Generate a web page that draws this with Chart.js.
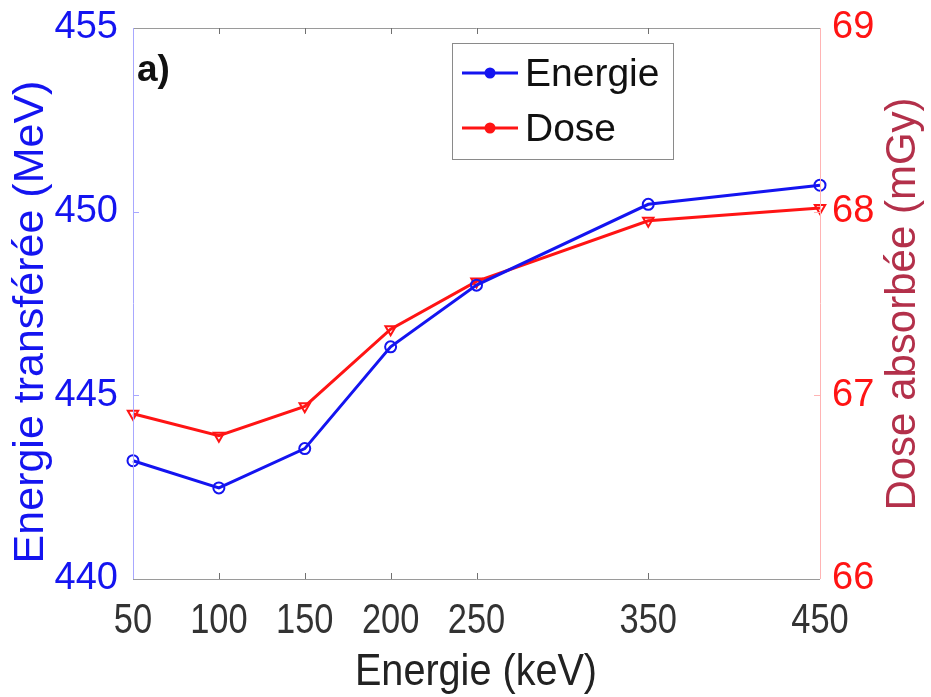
<!DOCTYPE html>
<html>
<head>
<meta charset="utf-8">
<script src="https://cdn.jsdelivr.net/npm/chart.js@4.4.1/dist/chart.umd.min.js"></script>
<style>
  html, body { margin: 0; padding: 0; background: #fff; }
  #wrap { width: 931px; height: 697px; }
</style>
</head>
<body>
<div id="wrap"><canvas id="c" width="931" height="697"></canvas></div>
<script>
// Photon energy (keV) and the two measured quantities
const energyKeV = [50, 100, 150, 200, 250, 350, 450];
const energieMeV = [443.22, 442.48, 443.55, 446.32, 448.0, 450.2, 450.72];
const doseMGy = [66.90, 66.78, 66.94, 67.36, 67.62, 67.95, 68.02];

const leftTicks = [440, 445, 450, 455];
const rightTicks = [66, 67, 68, 69];

const BLUE = '#1414f0';
const RED = '#ff1414';
const SANS = '"Liberation Sans", Arial, sans-serif';

// Frame, inner tick marks, x tick labels, axis titles, panel label and legend
const decor = {
  id: 'decor',
  afterDraw(chart) {
    const ctx = chart.ctx;
    const a = chart.chartArea;
    const x = chart.scales.x, y = chart.scales.y, y1 = chart.scales.y1;
    ctx.save();
    ctx.lineWidth = 1;

    // frame
    ctx.strokeStyle = '#9a9a9a';
    ctx.beginPath();
    ctx.moveTo(a.left, a.top + 0.5); ctx.lineTo(a.right, a.top + 0.5);
    ctx.moveTo(a.left, a.bottom + 0.5); ctx.lineTo(a.right, a.bottom + 0.5);
    ctx.stroke();
    ctx.strokeStyle = '#a8a8ff';
    ctx.beginPath(); ctx.moveTo(a.left + 0.5, a.top); ctx.lineTo(a.left + 0.5, a.bottom); ctx.stroke();
    ctx.strokeStyle = '#ffb4b4';
    ctx.beginPath(); ctx.moveTo(a.right + 0.5, a.top); ctx.lineTo(a.right + 0.5, a.bottom); ctx.stroke();

    // inner tick marks
    const tl = 6;
    ctx.strokeStyle = '#707070';
    ctx.beginPath();
    x.ticks.forEach(t => {
      if (t.value === x.min || t.value === x.max) return;
      const px = Math.round(x.getPixelForValue(t.value)) + 0.5;
      ctx.moveTo(px, a.bottom); ctx.lineTo(px, a.bottom - tl);
      ctx.moveTo(px, a.top); ctx.lineTo(px, a.top + tl);
    });
    ctx.stroke();
    ctx.strokeStyle = '#a8a8ff';
    ctx.beginPath();
    y.ticks.forEach(t => {
      if (t.value === y.min || t.value === y.max) return;
      const py = Math.round(y.getPixelForValue(t.value)) + 0.5;
      ctx.moveTo(a.left, py); ctx.lineTo(a.left + tl, py);
    });
    ctx.stroke();
    ctx.strokeStyle = '#ffb4b4';
    ctx.beginPath();
    y1.ticks.forEach(t => {
      if (t.value === y1.min || t.value === y1.max) return;
      const py = Math.round(y1.getPixelForValue(t.value)) + 0.5;
      ctx.moveTo(a.right, py); ctx.lineTo(a.right - tl, py);
    });
    ctx.stroke();

    // x tick labels (slightly condensed face)
    ctx.fillStyle = '#333';
    ctx.font = '42px ' + SANS;
    ctx.textAlign = 'center';
    ctx.textBaseline = 'alphabetic';
    x.ticks.forEach(t => {
      const px = x.getPixelForValue(t.value);
      ctx.save();
      ctx.translate(px, 633);
      ctx.scale(0.82, 1);
      ctx.fillText(String(t.value), 0, 0);
      ctx.restore();
    });

    // axis titles
    ctx.save();
    ctx.translate(476, 685);
    ctx.scale(0.9, 1);
    ctx.fillStyle = '#222';
    ctx.font = '44px ' + SANS;
    ctx.fillText('Energie (keV)', 0, 0);
    ctx.restore();

    ctx.save();
    ctx.translate(43, 322);
    ctx.rotate(-Math.PI / 2);
    ctx.fillStyle = BLUE;
    ctx.font = '43px ' + SANS;
    ctx.fillText('Energie transférée (MeV)', 0, 0);
    ctx.restore();

    ctx.save();
    ctx.translate(915, 304);
    ctx.rotate(-Math.PI / 2);
    ctx.fillStyle = '#b3304a';
    ctx.font = '42px ' + SANS;
    ctx.fillText('Dose absorbée (mGy)', 0, 0);
    ctx.restore();

    // panel label
    ctx.textAlign = 'left';
    ctx.fillStyle = '#111';
    ctx.font = 'bold 37px ' + SANS;
    ctx.fillText('a)', 137, 81);

    // legend
    const bx = 452, by = 43, bw = 221, bh = 116;
    ctx.fillStyle = '#fff';
    ctx.fillRect(bx, by, bw, bh);
    ctx.strokeStyle = '#8a8a8a';
    ctx.lineWidth = 1;
    ctx.strokeRect(bx + 0.5, by + 0.5, bw, bh);
    const items = [
      { label: 'Energie', color: BLUE, yy: 73 },
      { label: 'Dose', color: RED, yy: 128 }
    ];
    items.forEach(it => {
      ctx.strokeStyle = it.color;
      ctx.lineWidth = 3;
      ctx.beginPath(); ctx.moveTo(462, it.yy); ctx.lineTo(518, it.yy); ctx.stroke();
      ctx.fillStyle = it.color;
      ctx.beginPath(); ctx.arc(490, it.yy, 5.5, 0, Math.PI * 2); ctx.fill();
      ctx.fillStyle = '#111';
      ctx.font = '39px ' + SANS;
      ctx.textBaseline = 'middle';
      ctx.fillText(it.label, 525, it.yy + 2);
    });
    ctx.restore();
  }
};

const noPad = s => { s.paddingTop = 0; s.paddingBottom = 0; s.paddingLeft = 0; s.paddingRight = 0; };

new Chart(document.getElementById('c'), {
  type: 'line',
  data: {
    datasets: [
      {
        label: 'Energie',
        data: energyKeV.map((e, i) => ({ x: e, y: energieMeV[i] })),
        yAxisID: 'y',
        borderColor: BLUE,
        backgroundColor: 'rgba(0,0,0,0)',
        borderWidth: 3,
        pointStyle: 'circle',
        pointRadius: 5.5,
        pointBorderWidth: 2,
        pointBorderColor: BLUE,
        pointBackgroundColor: 'rgba(0,0,0,0)',
        tension: 0,
        clip: false
      },
      {
        label: 'Dose',
        data: energyKeV.map((e, i) => ({ x: e, y: doseMGy[i] })),
        yAxisID: 'y1',
        borderColor: RED,
        backgroundColor: 'rgba(0,0,0,0)',
        borderWidth: 3,
        pointStyle: 'triangle',
        rotation: 180,
        pointRadius: 6,
        pointBorderWidth: 2,
        pointBorderColor: RED,
        pointBackgroundColor: 'rgba(0,0,0,0)',
        tension: 0,
        clip: false
      }
    ]
  },
  options: {
    responsive: false,
    animation: false,
    devicePixelRatio: 1,
    layout: { padding: { top: 28, left: 0, right: 0, bottom: 0 } },
    plugins: { legend: { display: false }, tooltip: { enabled: false } },
    scales: {
      x: {
        type: 'linear',
        min: 50, max: 450,
        afterBuildTicks: s => { s.ticks = energyKeV.map(v => ({ value: v })); },
        afterFit: s => { s.height = 118; noPad(s); },
        grid: { display: false, drawTicks: false },
        border: { display: false },
        ticks: { display: false }
      },
      y: {
        position: 'left',
        min: 440, max: 455,
        afterBuildTicks: s => { s.ticks = leftTicks.map(v => ({ value: v })); },
        afterFit: s => { s.width = 133; noPad(s); },
        grid: { display: false, drawTicks: false },
        border: { display: false },
        ticks: { color: BLUE, font: { family: SANS, size: 38 }, padding: 15 }
      },
      y1: {
        position: 'right',
        min: 66, max: 69,
        afterBuildTicks: s => { s.ticks = rightTicks.map(v => ({ value: v })); },
        afterFit: s => { s.width = 111; noPad(s); },
        grid: { display: false, drawTicks: false },
        border: { display: false },
        ticks: { color: RED, font: { family: SANS, size: 38 }, padding: 12 }
      }
    }
  },
  plugins: [decor]
});
</script>
</body>
</html>
